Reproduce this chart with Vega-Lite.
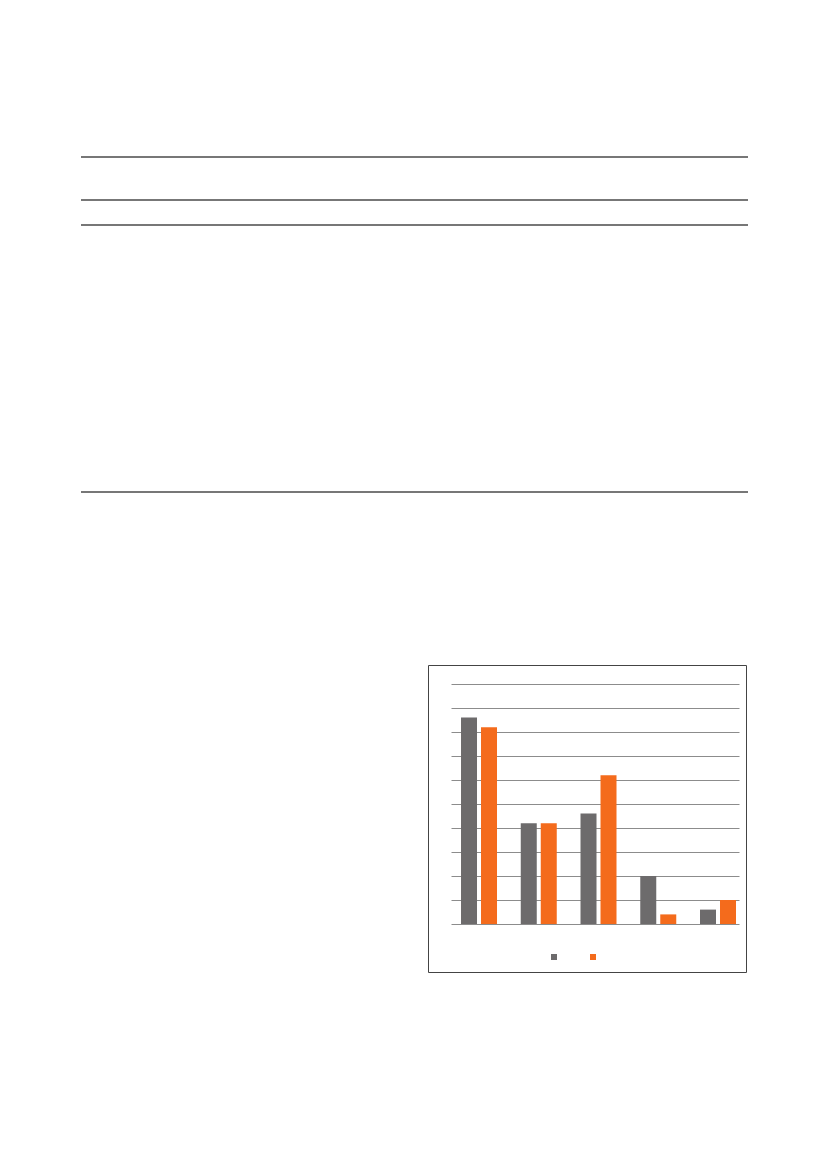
{
  "$schema": "https://vega.github.io/schema/vega-lite/v6.json",
  "background": "white",
  "padding": {"left": 80, "top": 156, "right": 0, "bottom": 0},
  "bounds": "flush",
  "spacing": 173,
  "config": {"view": {"stroke": null}},
  "vconcat": [
    {
      "width": 667,
      "height": 335,
      "data": {"values": [
        {"rule": "table top", "pos": 0},
        {"rule": "header bottom", "pos": 43},
        {"rule": "subheader bottom", "pos": 68},
        {"rule": "table bottom", "pos": 335}
      ]},
      "mark": {"type": "rule", "color": "#4a4a4a", "strokeWidth": 1.3},
      "encoding": {
        "y": {"field": "pos", "type": "quantitative", "axis": null,
              "scale": {"domain": [0, 335], "reverse": true, "nice": false, "zero": false}}
      }
    },
    {
      "hconcat": [
        {
          "width": 347,
          "height": 10,
          "data": {"values": []},
          "mark": "point"
        },
        {
          "width": 318,
          "height": 307,
          "view": {"stroke": "#444444", "strokeWidth": 1},
          "data": {"values": [
            {"category": "C1", "series": "Series 1", "value": 8.6},
            {"category": "C1", "series": "Series 2", "value": 8.2},
            {"category": "C2", "series": "Series 1", "value": 4.2},
            {"category": "C2", "series": "Series 2", "value": 4.2},
            {"category": "C3", "series": "Series 1", "value": 4.6},
            {"category": "C3", "series": "Series 2", "value": 6.2},
            {"category": "C4", "series": "Series 1", "value": 2.0},
            {"category": "C4", "series": "Series 2", "value": 0.4},
            {"category": "C5", "series": "Series 1", "value": 0.6},
            {"category": "C5", "series": "Series 2", "value": 1.0}
          ]},
          "mark": {"type": "bar"},
          "encoding": {
            "x": {"field": "category", "type": "nominal", "axis": null,
                  "scale": {"range": [23, 311], "paddingInner": 0.3975, "paddingOuter": 0.1088, "align": 0.77}},
            "xOffset": {"field": "series", "type": "nominal",
                        "scale": {"paddingInner": 0.2, "paddingOuter": 0}},
            "y": {"field": "value", "type": "quantitative",
                  "scale": {"domain": [0, 10], "range": [259, 19], "nice": false},
                  "axis": {"values": [0,1,2,3,4,5,6,7,8,9,10], "labels": false, "ticks": false,
                           "domain": false, "title": null, "grid": true,
                           "gridColor": "#8c8c8c", "gridWidth": 1, "gridOpacity": 1}},
            "color": {"field": "series", "type": "nominal",
                      "scale": {"domain": ["Series 1", "Series 2"], "range": ["#6d6b6c", "#f46b1c"]},
                      "legend": {"orient": "none", "legendX": 468, "legendY": 795,
                                 "direction": "horizontal", "title": null,
                                 "symbolType": "square", "symbolSize": 36, "symbolStrokeWidth": 0,
                                 "labelExpr": "''", "columnPadding": 25, "padding": 0}}
          }
        }
      ],
      "spacing": 0,
      "bounds": "flush"
    }
  ]
}
